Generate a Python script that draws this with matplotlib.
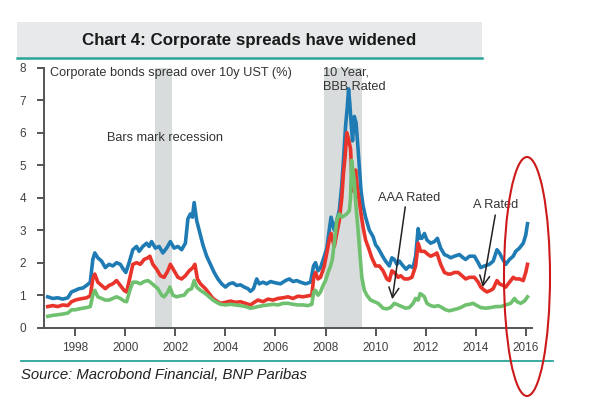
import matplotlib
matplotlib.use("Agg")
import matplotlib.pyplot as plt
from matplotlib.patches import Rectangle, Ellipse
from matplotlib.lines import Line2D

plt.rcParams['font.family'] = ['Liberation Sans', 'DejaVu Sans']

# ---- data ----
bbb_years = [1996.9, 1997.1, 1997.3, 1997.5, 1997.7, 1997.85, 1998.0, 1998.15, 1998.3, 1998.45,
             1998.6, 1998.7, 1998.78, 1998.9, 1999.05, 1999.2, 1999.35, 1999.5, 1999.65, 1999.8,
             1999.92, 2000.02, 2000.15, 2000.3, 2000.45, 2000.55, 2000.7, 2000.85, 2000.95, 2001.05,
             2001.2, 2001.35, 2001.5, 2001.65, 2001.8, 2001.95, 2002.1, 2002.25, 2002.4, 2002.5,
             2002.6, 2002.68, 2002.75, 2002.85, 2002.95, 2003.1, 2003.25, 2003.4, 2003.55, 2003.7,
             2003.85, 2004.0, 2004.15, 2004.3, 2004.45, 2004.6, 2004.75, 2004.9, 2005.0, 2005.12,
             2005.25, 2005.35, 2005.5, 2005.65, 2005.8, 2006.0, 2006.2, 2006.4, 2006.55, 2006.7,
             2006.85, 2007.0, 2007.2, 2007.4, 2007.52, 2007.6, 2007.7, 2007.8, 2007.95, 2008.05,
             2008.15, 2008.22, 2008.35, 2008.45, 2008.55, 2008.65, 2008.72, 2008.8, 2008.87, 2008.92,
             2008.97, 2009.03, 2009.08, 2009.15, 2009.22, 2009.28, 2009.35, 2009.42, 2009.5, 2009.6,
             2009.75, 2009.9, 2010.0, 2010.1, 2010.28, 2010.4, 2010.55, 2010.65, 2010.75, 2010.85,
             2010.95, 2011.1, 2011.22, 2011.35, 2011.5, 2011.6, 2011.7, 2011.78, 2011.85, 2011.95,
             2012.05, 2012.2, 2012.35, 2012.47, 2012.6, 2012.75, 2012.9, 2013.0, 2013.15, 2013.35,
             2013.5, 2013.6, 2013.75, 2013.95, 2014.1, 2014.2, 2014.35, 2014.55, 2014.7, 2014.85,
             2014.95, 2015.05, 2015.2, 2015.35, 2015.5, 2015.6, 2015.75, 2015.9, 2016.0, 2016.07]
bbb = [0.95, 0.9, 0.92, 0.88, 0.92, 1.1, 1.15, 1.2, 1.22, 1.3,
       1.4, 2.1, 2.3, 2.15, 2.05, 1.85, 1.95, 1.9, 2.0, 1.95,
       1.8, 1.7, 2.0, 2.4, 2.5, 2.35, 2.5, 2.6, 2.5, 2.65,
       2.45, 2.5, 2.3, 2.45, 2.65, 2.45, 2.5, 2.4, 2.6, 3.35,
       3.5, 3.4, 3.85, 3.3, 3.0, 2.55, 2.2, 1.95, 1.7, 1.5,
       1.35, 1.25, 1.35, 1.38, 1.3, 1.32, 1.25, 1.2, 1.12, 1.2,
       1.5, 1.35, 1.4, 1.35, 1.42, 1.38, 1.35, 1.45, 1.5, 1.42,
       1.45, 1.4, 1.35, 1.4, 1.9, 2.0, 1.75, 1.85, 2.2, 2.45,
       3.0, 3.4, 3.0, 3.3, 3.6, 4.4, 5.2, 6.2, 6.8, 7.35,
       6.9, 6.2, 5.75, 6.5, 6.3, 5.7, 4.95, 4.2, 3.75, 3.4,
       3.0, 2.8, 2.55, 2.45, 2.2, 2.05, 1.9, 2.15, 2.1, 1.95,
       2.05, 1.9, 1.8, 1.9, 1.85, 2.2, 3.05, 2.75, 2.75, 2.9,
       2.7, 2.6, 2.65, 2.75, 2.45, 2.25, 2.2, 2.15, 2.2, 2.25,
       2.15, 2.1, 2.2, 2.2, 2.0, 1.85, 1.9, 1.95, 2.05, 2.4,
       2.3, 2.15, 1.95, 2.1, 2.2, 2.35, 2.45, 2.6, 2.85, 3.2]

a_years = [1996.9, 1997.1, 1997.3, 1997.5, 1997.7, 1997.85, 1998.0, 1998.15, 1998.3, 1998.45,
           1998.6, 1998.7, 1998.78, 1998.9, 1999.05, 1999.2, 1999.35, 1999.5, 1999.65, 1999.8,
           1999.95, 2000.05, 2000.2, 2000.3, 2000.45, 2000.6, 2000.75, 2000.9, 2000.98, 2001.1,
           2001.25, 2001.4, 2001.55, 2001.7, 2001.8, 2001.95, 2002.1, 2002.25, 2002.4, 2002.55,
           2002.7, 2002.78, 2002.88, 2003.0, 2003.2, 2003.35, 2003.5, 2003.65, 2003.8, 2004.0,
           2004.2, 2004.4, 2004.6, 2004.8, 2005.0, 2005.15, 2005.3, 2005.5, 2005.7, 2005.9,
           2006.1, 2006.3, 2006.5, 2006.7, 2006.9, 2007.1, 2007.3, 2007.45, 2007.53, 2007.6,
           2007.7, 2007.8, 2007.95, 2008.05, 2008.15, 2008.22, 2008.35, 2008.45, 2008.55, 2008.65,
           2008.72, 2008.78, 2008.85, 2008.92, 2009.0, 2009.06, 2009.12, 2009.2, 2009.27, 2009.33,
           2009.42, 2009.5, 2009.6, 2009.72, 2009.85, 2010.0, 2010.15, 2010.3, 2010.45, 2010.55,
           2010.65, 2010.75, 2010.9, 2011.0, 2011.15, 2011.3, 2011.45, 2011.6, 2011.7, 2011.8,
           2011.95, 2012.1, 2012.2, 2012.35, 2012.45, 2012.6, 2012.75, 2012.9, 2013.0, 2013.15,
           2013.3, 2013.45, 2013.6, 2013.75, 2013.95, 2014.1, 2014.2, 2014.35, 2014.45, 2014.6,
           2014.7, 2014.85, 2014.95, 2015.1, 2015.2, 2015.35, 2015.5, 2015.6, 2015.75, 2015.9,
           2016.0, 2016.07]
a_rated = [0.65, 0.68, 0.65, 0.7, 0.68, 0.8, 0.85, 0.88, 0.9, 0.92,
           0.98, 1.5, 1.65, 1.4, 1.3, 1.2, 1.3, 1.35, 1.45, 1.3,
           1.15, 1.1, 1.6, 1.95, 2.0, 1.95, 2.1, 2.15, 2.2, 1.95,
           1.8, 1.6, 1.55, 1.75, 1.95, 1.75, 1.55, 1.5, 1.6, 1.75,
           1.85, 1.95, 1.5, 1.35, 1.2, 1.05, 0.9, 0.82, 0.75, 0.78,
           0.82, 0.78, 0.8, 0.75, 0.7, 0.78, 0.85, 0.8, 0.88, 0.85,
           0.9, 0.92, 0.95, 0.9, 0.97, 0.95, 0.98, 1.0, 1.55, 1.7,
           1.5, 1.55, 1.9, 2.3, 2.7, 2.9, 2.5, 2.9, 3.3, 4.0,
           4.8, 5.25, 6.0, 5.8, 5.5, 4.5, 4.2, 4.85, 4.3, 4.0,
           3.5, 3.1, 2.7, 2.45, 2.15, 1.9, 1.9, 1.75, 1.5, 1.45,
           1.75, 1.7, 1.55, 1.6, 1.5, 1.5, 1.55, 1.9, 2.6, 2.35,
           2.35, 2.25, 2.2, 2.25, 2.3, 1.95, 1.7, 1.65, 1.65, 1.7,
           1.7, 1.6, 1.5, 1.55, 1.55, 1.4, 1.25, 1.15, 1.1, 1.15,
           1.2, 1.45, 1.35, 1.3, 1.25, 1.4, 1.55, 1.5, 1.5, 1.45,
           1.7, 1.95]

aaa_years = [1996.9, 1997.1, 1997.3, 1997.5, 1997.7, 1997.85, 1998.0, 1998.15, 1998.3, 1998.45,
             1998.6, 1998.7, 1998.78, 1998.9, 1999.05, 1999.2, 1999.35, 1999.5, 1999.65, 1999.8,
             1999.95, 2000.05, 2000.2, 2000.3, 2000.45, 2000.6, 2000.75, 2000.9, 2001.0, 2001.15,
             2001.3, 2001.45, 2001.55, 2001.7, 2001.78, 2001.9, 2002.05, 2002.2, 2002.35, 2002.5,
             2002.65, 2002.75, 2002.85, 2003.0, 2003.2, 2003.35, 2003.5, 2003.65, 2003.8, 2004.0,
             2004.2, 2004.4, 2004.6, 2004.8, 2005.0, 2005.15, 2005.3, 2005.5, 2005.7, 2005.9,
             2006.1, 2006.3, 2006.5, 2006.7, 2006.9, 2007.1, 2007.3, 2007.45, 2007.53, 2007.6,
             2007.7, 2007.8, 2007.9, 2008.0, 2008.1, 2008.2, 2008.27, 2008.35, 2008.45, 2008.55,
             2008.65, 2008.75, 2008.85, 2008.95, 2009.0, 2009.04, 2009.1, 2009.15, 2009.22, 2009.3,
             2009.36, 2009.45, 2009.55, 2009.65, 2009.8, 2009.95, 2010.1, 2010.3, 2010.45, 2010.6,
             2010.75, 2010.9, 2011.05, 2011.2, 2011.35, 2011.5, 2011.6, 2011.7, 2011.78, 2011.88,
             2011.95, 2012.05, 2012.2, 2012.35, 2012.5, 2012.65, 2012.8, 2012.95, 2013.1, 2013.25,
             2013.4, 2013.6, 2013.75, 2013.9, 2014.05, 2014.2, 2014.4, 2014.6, 2014.8, 2015.0,
             2015.2, 2015.4, 2015.55, 2015.65, 2015.8, 2015.95, 2016.07]
aaa = [0.35, 0.38, 0.4, 0.42, 0.45, 0.55, 0.55, 0.58, 0.6, 0.62,
       0.65, 1.0, 1.15, 0.95, 0.9, 0.85, 0.85, 0.9, 0.95, 0.9,
       0.82, 0.8, 1.2, 1.4, 1.4, 1.35, 1.42, 1.45, 1.4, 1.3,
       1.2, 1.0, 0.95, 1.1, 1.25, 1.0, 0.95, 0.98, 1.0, 1.15,
       1.2, 1.45, 1.25, 1.15, 1.05, 0.95, 0.85, 0.78, 0.72, 0.7,
       0.72, 0.7, 0.68, 0.65, 0.6, 0.62, 0.65, 0.68, 0.7, 0.72,
       0.7, 0.75, 0.75, 0.72, 0.7, 0.7, 0.68, 0.72, 1.1, 1.15,
       1.0, 1.1, 1.3, 1.45, 1.7, 1.9, 2.1, 2.6, 3.3, 3.5,
       3.4, 3.45, 3.5, 3.6, 4.0, 5.15, 4.8, 4.5, 3.7, 3.0,
       2.4, 1.55, 1.15, 1.0, 0.85, 0.8, 0.75, 0.6, 0.58, 0.62,
       0.75, 0.7, 0.65, 0.6, 0.62, 0.75, 0.9, 0.85, 1.05, 1.0,
       0.95, 0.75, 0.68, 0.65, 0.68, 0.62, 0.55, 0.52, 0.55, 0.58,
       0.62, 0.7, 0.72, 0.75, 0.68, 0.62, 0.6, 0.62, 0.65, 0.65,
       0.7, 0.75, 0.9, 0.8, 0.75, 0.82, 0.95]

recessions = [(2001.2, 2001.85), (2007.95, 2009.45)]
year_ticks = [1998, 2000, 2002, 2004, 2006, 2008, 2010, 2012, 2014, 2016]
value_ticks = [0, 1, 2, 3, 4, 5, 6, 7, 8]

W, H = 600, 401


def fx(px):
    return px / W


def fy(py):
    return 1 - py / H


fig = plt.figure(figsize=(6, 4.01), dpi=100)
fig.patch.set_facecolor('white')

# title banner
fig.patches.append(Rectangle((fx(17), fy(58)), fx(482) - fx(17), fy(22) - fy(58),
                             transform=fig.transFigure, facecolor='#e7e9ea', edgecolor='none', zorder=0))
fig.lines.append(Line2D([fx(17), fx(482)], [fy(58), fy(58)], transform=fig.transFigure,
                        color='#2aa597', lw=1.8))
fig.text(fx(249), fy(40), 'Chart 4: Corporate spreads have widened', ha='center', va='center',
         fontsize=12.2, fontweight='bold', color='#1a1a1a')

ax = fig.add_axes([fx(44), fy(327.7), fx(532) - fx(44), fy(67.7) - fy(327.7)])
ax.set_xlim(1996.75, 2016.25)
ax.set_ylim(0, 8)

for r0, r1 in recessions:
    ax.axvspan(r0, r1, color='#d9dcdc', lw=0, zorder=0)

ax.plot(bbb_years, bbb, color='#1f7bb4', lw=2.6, zorder=2)
ax.plot(a_years, a_rated, color='#e8342a', lw=2.6, zorder=3)
ax.plot(aaa_years, aaa, color='#6fc16f', lw=2.6, zorder=4)

for s in ['top', 'right']:
    ax.spines[s].set_visible(False)
for s in ['left', 'bottom']:
    ax.spines[s].set_color('#555555')
    ax.spines[s].set_linewidth(1.4)

ax.set_xticks(year_ticks)
ax.set_xticklabels([str(y) for y in year_ticks])
ax.set_yticks(value_ticks)
ax.tick_params(axis='x', direction='out', length=6, width=1.4, color='#555555',
               labelsize=8.5, labelcolor='#404040', pad=4)
ax.tick_params(axis='y', direction='out', length=5, width=1.4, color='#555555',
               labelsize=8.5, labelcolor='#404040', pad=8)

txt = dict(fontsize=9.2, color='#333333')
ax.text(1997.0, 7.85, 'Corporate bonds spread over 10y UST (%)', ha='left', va='center', **txt)
ax.text(1999.25, 5.85, 'Bars mark recession', ha='left', va='center', **txt)
ax.text(2007.9, 7.85, '10 Year,', ha='left', va='center', **txt)
ax.text(2007.9, 7.4, 'BBB Rated', ha='left', va='center', **txt)

ax.annotate('', xy=(2010.65, 0.79), xytext=(2011.2, 3.8),
            arrowprops=dict(arrowstyle='->', color='#222222', lw=1.1, mutation_scale=18))
ax.text(2010.1, 3.99, 'AAA Rated', ha='left', va='center', **txt)
ax.annotate('', xy=(2014.26, 1.16), xytext=(2014.8, 3.55),
            arrowprops=dict(arrowstyle='->', color='#222222', lw=1.1, mutation_scale=18))
ax.text(2013.9, 3.78, 'A Rated', ha='left', va='center', **txt)

# bottom rule and source
fig.lines.append(Line2D([fx(21), fx(553)], [fy(360.5), fy(360.5)], transform=fig.transFigure,
                        color='#2aa597', lw=1.3))
fig.text(fx(21), fy(375), 'Source: Macrobond Financial, BNP Paribas', ha='left', va='center',
         fontsize=10.7, style='italic', color='#222222')

# hand-drawn red ellipse
fig.patches.append(Ellipse((fx(527), fy(276.5)), fx(46), 239 / H, transform=fig.transFigure,
                           facecolor='none', edgecolor='#cc1a1a', lw=1.5, zorder=10))

fig.savefig('out.png', dpi=100)
